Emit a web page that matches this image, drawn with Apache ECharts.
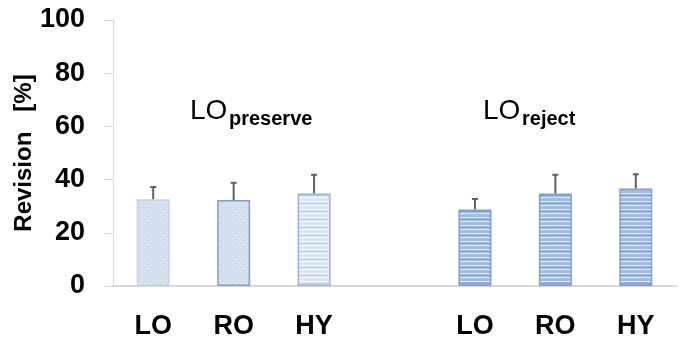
<!DOCTYPE html>
<html>
<head>
<meta charset="utf-8">
<script src="https://cdn.jsdelivr.net/npm/echarts@6/dist/echarts.min.js"></script>
<style>html,body{margin:0;padding:0;background:#fff}#c{width:679px;height:341px}</style>
</head>
<body>
<div id="c"></div>
<script>
var categories = ['LO', 'RO', 'HY', '', 'LO', 'RO', 'HY'];
var values = [32.6, 32.3, 34.8, null, 28.8, 34.8, 36.7];
var errors = [4.6, 6.5, 7.0, null, 3.9, 7.0, 5.3];
var yTicks = [0, 20, 40, 60, 80, 100];
var groupLabels = [{main: 'LO', sub: 'preserve'}, {main: 'LO', sub: 'reject'}];

function makePattern(w, h, draw) {
  var c = document.createElement('canvas');
  c.width = w; c.height = h;
  var ctx = c.getContext('2d');
  draw(ctx);
  return {image: c, repeat: 'repeat'};
}
var dotted = makePattern(6, 6, function (ctx) {
  ctx.fillStyle = '#d2ddee'; ctx.fillRect(0, 0, 6, 6);
  ctx.fillStyle = '#edf2f9'; ctx.fillRect(1, 1, 1, 1); ctx.fillRect(4, 4, 1, 1);
});
var lightStripes = makePattern(4, 8, function (ctx) {
  ctx.fillStyle = '#dde6f3'; ctx.fillRect(0, 0, 4, 8);
  ctx.fillStyle = '#f4f7fc'; ctx.fillRect(0, 1, 4, 1); ctx.fillRect(0, 5, 4, 1);
  ctx.fillStyle = '#b8cbe7'; ctx.fillRect(0, 3, 4, 1);
});
var darkStripes = makePattern(4, 8, function (ctx) {
  ctx.fillStyle = '#a3bbdf'; ctx.fillRect(0, 0, 4, 8);
  ctx.fillStyle = '#e4ebf6'; ctx.fillRect(0, 1, 4, 1); ctx.fillRect(0, 5, 4, 1);
  ctx.fillStyle = '#7d9fd3'; ctx.fillRect(0, 3, 4, 1);
});
var styles = [
  {color: dotted, borderColor: '#c3d3ea', borderWidth: 1.5},
  {color: dotted, borderColor: '#7f9fd0', borderWidth: 1.5},
  {color: lightStripes, borderColor: '#9ab4dc', borderWidth: 1.5},
  null,
  {color: darkStripes, borderColor: '#7f9fd2', borderWidth: 1.5},
  {color: darkStripes, borderColor: '#7f9fd2', borderWidth: 1.5},
  {color: darkStripes, borderColor: '#7f9fd2', borderWidth: 1.5}
];
var barData = values.map(function (v, i) {
  if (v == null) return '-';
  return {value: v, itemStyle: styles[i]};
});
var errData = values.map(function (v, i) {
  return v == null ? [i, '-', '-'] : [i, v, v + errors[i]];
});

var chart = echarts.init(document.getElementById('c'));
var FONT = '"Liberation Sans", Arial, sans-serif';
chart.setOption({
  animation: false,
  grid: {left: 113, right: 3, top: 20, bottom: 55, outerBoundsMode: 'none'},
  xAxis: {
    type: 'category',
    data: categories,
    axisTick: {show: false},
    axisLine: {lineStyle: {color: '#d9d9d9', width: 2}},
    axisLabel: {color: '#000', fontFamily: FONT, fontWeight: 'bold', fontSize: 27, margin: 27}
  },
  yAxis: {
    type: 'value',
    min: yTicks[0], max: yTicks[yTicks.length - 1], interval: 20,
    name: 'Revision   [%]',
    nameLocation: 'middle',
    nameRotate: 90,
    nameGap: 77,
    nameMoveOverlap: false,
    nameTextStyle: {color: '#000', fontFamily: FONT, fontWeight: 'bold', fontSize: 24},
    splitLine: {show: false},
    axisLine: {show: true, lineStyle: {color: '#d9d9d9', width: 1}},
    axisTick: {show: true, length: 9, lineStyle: {color: '#d9d9d9'}},
    axisLabel: {color: '#000', fontFamily: FONT, fontWeight: 'bold', fontSize: 27, margin: 28}
  },
  graphic: [
    {type: 'text', left: 190, top: 97, style: {text: groupLabels[0].main, font: '28px ' + FONT, fill: '#000'}},
    {type: 'text', left: 229, top: 109, style: {text: groupLabels[0].sub, font: 'bold 20px ' + FONT, fill: '#000'}},
    {type: 'text', left: 483, top: 97, style: {text: groupLabels[1].main, font: '28px ' + FONT, fill: '#000'}},
    {type: 'text', left: 522, top: 109, style: {text: groupLabels[1].sub, font: 'bold 20px ' + FONT, fill: '#000'}}
  ],
  series: [
    {type: 'bar', data: barData, barWidth: 33, z: 2},
    {
      type: 'custom', z: 3,
      data: errData,
      encode: {x: 0, y: [1, 2]},
      renderItem: function (params, api) {
        var y0 = api.value(1);
        if (isNaN(y0)) return null;
        var p0 = api.coord([api.value(0), y0]);
        var p1 = api.coord([api.value(0), api.value(2)]);
        var st = {stroke: '#5f5f5f', lineWidth: 2};
        return {
          type: 'group',
          children: [
            {type: 'line', shape: {x1: p0[0], y1: p0[1], x2: p1[0], y2: p1[1]}, style: st},
            {type: 'line', shape: {x1: p1[0] - 3, y1: p1[1], x2: p1[0] + 3, y2: p1[1]}, style: st}
          ]
        };
      }
    }
  ]
});
</script>
</body>
</html>
